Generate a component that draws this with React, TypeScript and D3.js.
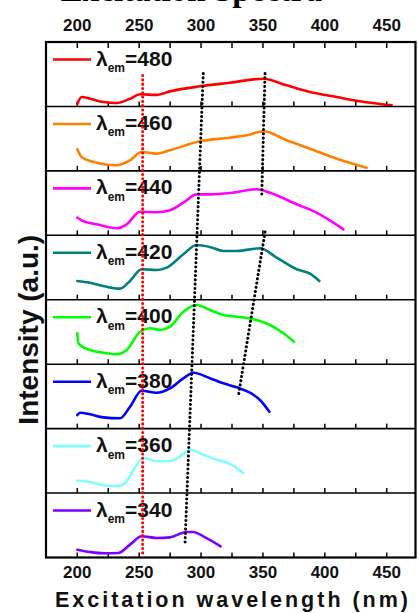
import React from "react";
import * as d3 from "d3";

// Emission wavelengths, bottom panel first
const emLabels = ["340", "360", "380", "400", "420", "440", "460", "480"];
const colors = ["#8000ff", "#80ffff", "#0000ff", "#00ff00", "#008080", "#ff00ff", "#ff8000", "#ff0000"];
const xMajorTicks = [200, 250, 300, 350, 400, 450];
const xAllTicks = [200, 225, 250, 275, 300, 325, 350, 375, 400, 425, 450];

// Excitation wavelength (nm) and normalized intensity within its panel
const wl340 = [200, 210.3, 221, 233.1, 242.6, 252, 264.1, 274.9, 288.3, 293.8, 301.8, 315.8];
const in340 = [0.121, 0.085, 0.065, 0.07, 0.199, 0.329, 0.303, 0.313, 0.396, 0.396, 0.329, 0.174];
const wl360 = [200, 210.3, 221, 231.8, 239.9, 248, 253.4, 264.1, 274.9, 283, 291.1, 301.8, 312.6, 323.4, 334.1];
const in360 = [0.192, 0.172, 0.121, 0.106, 0.183, 0.441, 0.545, 0.493, 0.493, 0.571, 0.673, 0.596, 0.518, 0.452, 0.312];
const wl380 = [200, 202.2, 210.3, 221, 234.5, 242.6, 252, 264.1, 274.9, 285.7, 293.8, 307.2, 318, 328.8, 339.5, 347.6, 355.2];
const in380 = [0.211, 0.247, 0.222, 0.175, 0.16, 0.34, 0.588, 0.557, 0.625, 0.781, 0.867, 0.781, 0.703, 0.641, 0.557, 0.444, 0.262];
const wl400 = [200, 200.8, 210.3, 221, 231.8, 239.9, 250.7, 258.8, 266.9, 274.9, 285.7, 296.4, 307.2, 318, 328.8, 342.2, 355.7, 366.5, 375.1];
const in400 = [0.48, 0.324, 0.22, 0.178, 0.154, 0.22, 0.504, 0.557, 0.531, 0.582, 0.815, 0.919, 0.841, 0.764, 0.737, 0.697, 0.608, 0.48, 0.349];
const wl420 = [200, 210.3, 221, 234.5, 242.6, 252, 264.1, 272.2, 285.7, 296.4, 307.2, 318, 328.8, 347.6, 361.1, 377.3, 388, 395.6];
const in420 = [0.292, 0.265, 0.214, 0.172, 0.292, 0.473, 0.462, 0.498, 0.706, 0.85, 0.819, 0.757, 0.757, 0.799, 0.653, 0.473, 0.405, 0.292];
const wl440 = [200, 203.5, 215.6, 231.8, 239.9, 250.7, 264.1, 274.9, 285.7, 296.4, 307.2, 323.4, 344.9, 355.7, 377.3, 393.4, 406.9, 415];
const in440 = [0.273, 0.233, 0.171, 0.109, 0.171, 0.366, 0.357, 0.388, 0.506, 0.636, 0.636, 0.656, 0.714, 0.661, 0.481, 0.351, 0.196, 0.093];
const wl460 = [200, 203.5, 215.7, 231.8, 242.6, 252, 264.1, 274.9, 299.1, 323.4, 336.9, 350.3, 369.2, 388, 409.6, 433.8];
const in460 = [0.335, 0.216, 0.127, 0.087, 0.164, 0.293, 0.267, 0.32, 0.459, 0.515, 0.552, 0.615, 0.475, 0.344, 0.189, 0.05];
const wl480 = [200, 203.5, 210.3, 221, 231.8, 242.6, 250.7, 264.1, 274.9, 299.1, 323.4, 350.3, 369.2, 388, 409.6, 428.4, 454];
const in480 = [0.04, 0.146, 0.12, 0.068, 0.053, 0.12, 0.188, 0.18, 0.234, 0.312, 0.368, 0.43, 0.327, 0.223, 0.146, 0.08, 0.017];

const wlSeries = [wl340, wl360, wl380, wl400, wl420, wl440, wl460, wl480];
const inSeries = [in340, in360, in380, in400, in420, in440, in460, in480];

// Guide lines: [wavelength, stacked panel position (0 = bottom, 8 = top)]
const redGuide = [[252.8, 7.48], [252.8, 0.07]];
const blackGuide1 = [[301.8, 7.51], [287.0, 0.19]];
const blackGuide2a = [[351.7, 7.51], [349.0, 5.58]];
const blackGuide2b = [[351.7, 5.05], [330.1, 2.5]];

const W = 418;
const H = 613;
const plotLeft = 46;
const plotRight = 415.5;
const plotTop = 42;
const plotBottom = 557.5;
const nPanels = emLabels.length;

export default function App() {
  const x = d3.scaleLinear().domain([200, 450]).range([77.3, 386.7]);
  const y = d3.scaleLinear().domain([0, nPanels]).range([plotBottom, plotTop]);

  const guideLine = d3
    .line<number[]>()
    .x((d) => x(d[0]))
    .y((d) => y(d[1]));

  const font = "'Liberation Sans', Arial, sans-serif";

  return (
    <svg
      width={W}
      height={H}
      style={{ position: "absolute", left: 0, top: 0, background: "#fff" }}
      fontFamily={font}
    >
      <rect x={0} y={0} width={W} height={H} fill="#fff" />
      {/* cut-off title */}
      <text
        x={322}
        y={0.5}
        textAnchor="end"
        fontFamily="'Liberation Serif', 'DejaVu Serif', serif"
        fontWeight="bold"
        fontSize={33}
        fill="#000"
      >
        Excitation Spectra
      </text>

      {/* panels */}
      {emLabels.map((lab, i) => {
        const base = y(i);
        const top = y(i + 1);
        const line = d3
          .line<number>()
          .x((_, k) => x(wlSeries[i][k]))
          .y((v) => y(i + v))
          .curve(d3.curveMonotoneX);
        return (
          <g key={lab}>
            {xAllTicks.map((t) => (
              <line key={t} x1={x(t)} x2={x(t)} y1={base} y2={base - 5} stroke="#000" strokeWidth={1.5} />
            ))}
            <path d={line(inSeries[i]) || ""} fill="none" stroke={colors[i]} strokeWidth={2.6} strokeLinejoin="round" strokeLinecap="round" />
            <line x1={53} x2={91} y1={top + 17.5} y2={top + 17.5} stroke={colors[i]} strokeWidth={2.6} />
            <text x={96} y={top + 23.5} fontWeight="bold" fontSize={21} fill="#111">
              λ
              <tspan dy={6.5} fontSize={12}>em</tspan>
              <tspan dy={-6.5} fontSize={21}>={lab}</tspan>
            </text>
            {i > 0 && (
              <line x1={plotLeft} x2={plotRight} y1={base} y2={base} stroke="#000" strokeWidth={1.6} />
            )}
          </g>
        );
      })}

      {xAllTicks.map((t) => (
        <line key={"tt" + t} x1={x(t)} x2={x(t)} y1={plotTop} y2={plotTop + 6} stroke="#000" strokeWidth={1.5} />
      ))}

      <path d={guideLine(redGuide) || ""} fill="none" stroke="#ff0000" strokeWidth={3} strokeLinecap="round" strokeDasharray="0.1 4.2" />
      <path d={guideLine(blackGuide1) || ""} fill="none" stroke="#000" strokeWidth={3} strokeLinecap="round" strokeDasharray="0.1 4.2" />
      <path d={guideLine(blackGuide2a) || ""} fill="none" stroke="#000" strokeWidth={3} strokeLinecap="round" strokeDasharray="0.1 4.2" />
      <path d={guideLine(blackGuide2b) || ""} fill="none" stroke="#000" strokeWidth={3} strokeLinecap="round" strokeDasharray="0.1 4.2" />

      <rect x={plotLeft} y={plotTop} width={plotRight - plotLeft} height={plotBottom - plotTop} fill="none" stroke="#000" strokeWidth={2.2} />

      {xMajorTicks.map((t) => (
        <text key={"top" + t} x={x(t)} y={31} textAnchor="middle" fontWeight="bold" fontSize={17} fill="#111">
          {t}
        </text>
      ))}
      {xMajorTicks.map((t) => (
        <text key={"bot" + t} x={x(t)} y={578.3} textAnchor="middle" fontWeight="bold" fontSize={17} fill="#111">
          {t}
        </text>
      ))}

      <text
        x={231.5}
        y={606.5}
        textAnchor="middle"
        fontWeight="bold"
        fontSize={21.5}
        textLength={353}
        lengthAdjust="spacing"
        fill="#111"
      >
        Excitation wavelength (nm)
      </text>
      <text
        transform={`translate(38.3, ${(plotTop + plotBottom) / 2 + 30}) rotate(-90)`}
        textAnchor="middle"
        fontWeight="bold"
        fontSize={28}
        fill="#111"
      >
        Intensity (a.u.)
      </text>
    </svg>
  );
}
